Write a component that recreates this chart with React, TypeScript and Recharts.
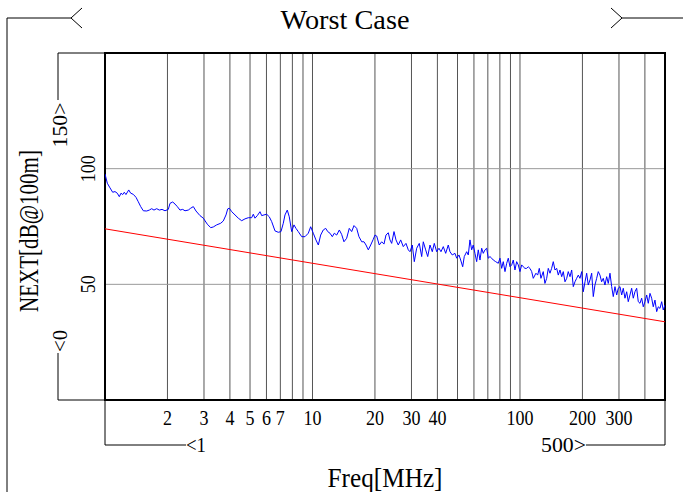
import React from 'react';
import { LineChart, Line, XAxis, YAxis, CartesianGrid, Customized } from 'recharts';

// measured NEXT trace (MHz / dB)
const freqs = [
  1, 1.026, 1.057, 1.089, 1.117, 1.146, 1.172, 1.194, 1.217, 1.239, 1.262, 1.301, 1.33, 1.369, 1.411, 1.447, 1.486, 1.53, 1.589, 1.635,
  1.679, 1.722, 1.775, 1.827, 1.883, 1.946, 2.019, 2.057, 2.12, 2.175, 2.231, 2.298, 2.369, 2.43, 2.52, 2.588, 2.665,
  2.745, 2.87, 2.977, 3.112, 3.232, 3.326, 3.454, 3.611, 3.717, 3.83, 3.903, 3.972, 4.08, 4.232, 4.389, 4.558, 4.728, 4.905, 5.093, 5.184,
  5.283, 5.42, 5.585, 5.691, 5.838, 6.016, 6.191, 6.359, 6.596, 6.842, 7.05, 7.232, 7.37,
  7.56, 7.729, 7.938, 8.142, 8.325, 8.54, 8.872, 9.203, 9.546, 9.802, 10.09, 10.39, 10.67, 10.95, 11.27, 11.58, 11.84, 12.14, 12.46, 12.74,
  13.08, 13.47, 13.82, 14.18, 14.61, 15.04, 15.45, 15.85, 16.33, 16.75, 17.27, 17.71, 18.11, 18.58, 19.08, 19.64,
  20.01, 20.39, 20.98, 21.55, 22.11, 22.61, 23.19, 23.63, 24.08, 24.71, 25.26, 25.91, 26.61, 27.39, 28.22, 28.95, 29.51, 30.27, 30.95, 31.78,
  32.71, 33.6, 34.2, 35.12, 35.92, 36.84, 37.79, 38.64, 39.68, 40.7, 41.62, 42.7, 43.85, 45.13, 45.99, 47.17, 48.61, 49.54, 50.82, 51.79, 52.96, 53.9,
  55.35, 56.34, 57.41, 58.5, 59.55, 60.68, 61.84, 62.95, 64.15, 65.38, 66.55, 67.82, 69.11, 70.35, 71.69, 73.06, 74.37, 76.38, 78.61, 80.1,
  81.63, 83.09, 84.68, 86.3, 87.84, 89.51, 91.2, 92.84, 94.61, 96.4, 98.13, 100, 101.9, 103.7, 105.7, 107.7, 109.6, 111.7, 113.9, 115.9,
  119.4, 121.7, 123.9, 126.2, 129.5, 131.9, 134.5, 136.9, 139.5,
  142.1, 144.7, 147.5, 150.3, 153, 155.9, 158.9, 161.7, 164.8, 168, 170.9, 174.2, 177.5, 180.7, 184.1, 187.6, 191, 194.6, 198.4, 201.9,
  205.8, 209.6, 213.4, 217.5, 221.6, 225.6, 229.8, 234.2, 238.4, 242.9, 247.5, 252, 256.8, 261.7, 266.4, 271.5, 276.7, 281.6, 287, 292.5,
  297.7, 303.4, 309.2, 314.7, 320.7, 326.8, 332.6, 338.9, 345.4, 351.6, 358.3, 365.1, 371.7, 378.8, 385.9, 392.9, 400.4, 408, 415.3, 423.2,
  431.2, 438.9, 447.3, 455.9, 464, 472.8, 481.9, 490.5, 500,
];

const nextValues = [
  97.7, 93.7, 91.7, 89.8, 90.1, 89.4, 87.9, 89.4, 88.8, 89.8, 88.8, 90.8, 89.4, 88.9, 87.6, 85.7, 83.6, 81.8, 81.7, 82.1,
  82.7, 82.1, 82.7, 82.1, 82.4, 81.8, 82.4, 85.0, 85.6, 84.7, 83.6, 82.1, 82.4, 81.8, 82.1, 82.9, 83.6,
  81.7, 79.7, 78.6, 76.0, 74.5, 74.8, 75.7, 76.4, 77.4, 80.0, 82.6, 82.9, 81.4, 80.0, 78.6, 77.5, 78.3, 78.8, 78.8, 80.3,
  78.6, 79.7, 81.4, 79.7, 80.0, 80.3, 79.2, 77.1, 73.1, 72.5, 72.8, 76.4, 80.0,
  82.1, 79.2, 72.8, 75.7, 74.2, 72.8, 70.6, 70.6, 72.1, 74.9, 72.1, 69.2, 67.0, 71.3, 73.5, 74.2, 72.8, 72.1, 70.6, 72.1,
  71.3, 73.5, 71.6, 68.4, 69.9, 74.2, 72.8, 75.4, 74.2, 70.6, 68.4, 68.4, 67.0, 64.9, 67.0, 69.5,
  71.3, 70.9, 67.0, 68.4, 67.4, 71.3, 72.3, 69.2, 67.7, 72.8, 69.2, 67.0, 69.2, 66.3, 67.7, 64.9, 64.1, 67.0, 59.8, 65.6,
  67.7, 62.0, 68.4, 64.9, 62.0, 67.0, 64.1, 67.7, 64.1, 65.6, 64.1, 66.3, 63.4, 67.0, 64.1, 62.7, 63.4, 61.3, 62.7, 60.5, 57.6, 62.0,
  64.1, 62.7, 69.2, 64.9, 67.0, 63.4, 59.8, 64.9, 60.5, 65.6, 63.4, 64.9, 65.6, 61.3, 62.0, 61.3, 60.5, 59.8, 59.1, 61.3,
  56.9, 59.8, 55.5, 59.1, 61.3, 57.6, 58.4, 60.5, 56.2, 59.8, 58.4, 55.5, 58.4, 57.6, 56.9, 56.9, 57.6, 56.9, 55.5, 52.6,
  54.8, 54.0, 56.9, 52.6, 55.5, 50.4, 52.6, 56.9, 54.8,
  56.9, 59.8, 56.2, 56.9, 54.0, 56.2, 53.3, 55.5, 51.1, 52.6, 55.5, 53.3, 56.2, 49.0, 51.1, 52.6, 54.0, 52.6, 55.5, 46.8,
  51.1, 54.8, 49.7, 51.9, 54.8, 44.7, 49.7, 52.6, 55.5, 54.0, 51.1, 52.6, 49.7, 53.3, 50.4, 54.8, 49.0, 44.7, 49.0, 45.4,
  48.3, 49.0, 45.4, 48.3, 44.0, 46.8, 42.5, 45.4, 48.3, 44.0, 46.8, 48.3, 42.5, 41.8, 44.0, 40.3, 42.5, 45.4, 41.8, 46.1,
  44.0, 40.3, 43.2, 38.2, 40.3, 39.6, 42.5, 38.9, 41.1,
];

// limit line end points
const limitFreqs = [1, 500];
const limitValues = [74, 33.8];

const gridFreqs = [2, 3, 4, 5, 6, 7, 8, 9, 10, 20, 30, 40, 50, 60, 70, 80, 90, 100, 200, 300, 400];
const labeledFreqs = [2, 3, 4, 5, 6, 7, 10, 20, 30, 40, 100, 200, 300];
const yTicks = [0, 50, 100, 150];
const labeledY = [50, 100];

const W = 683;
const H = 492;
const LEFT = 105;
const TOP = 53;
const RIGHT = 665;
const BOTTOM = 400;
const FONT = '"Liberation Serif", serif';

const nextData = freqs.slice(0, nextValues.length).map((f, i) => ({ f, v: nextValues[i] }));
const limitData = limitFreqs.map((f, i) => ({ f, v: limitValues[i] }));

function T({ x, y, text, size, len, rotate, anchor = 'middle' }: any) {
  return (
    <text
      x={0}
      y={0}
      transform={`translate(${x},${y})${rotate ? ` rotate(${rotate})` : ''}`}
      fontFamily={FONT}
      fontSize={size}
      textAnchor={anchor}
      textLength={len}
      lengthAdjust="spacingAndGlyphs"
      fill="#000"
    >
      {text}
    </text>
  );
}

const XTick = (props: any) => {
  const v = props.payload.value;
  if (!labeledFreqs.includes(v)) return <g />;
  const s = String(v);
  return <T x={props.x} y={425} text={s} size={21} len={9 * s.length} />;
};

const YTick = (props: any) => {
  const v = props.payload.value;
  if (!labeledY.includes(v)) return <g />;
  const s = String(v);
  return <T x={95} y={props.y} text={s} size={21} len={9 * s.length} rotate={-90} />;
};

const Deco = () => (
  <g stroke="#000" strokeWidth={1} fill="none">
    {/* figure frame + title brackets */}
    <polyline points={`7,${H} 7,18 71,18`} />
    <polyline points="82,8 71,18 82,28" />
    <polyline points="611,8 622,18 611,28" />
    <line x1={622} y1={18} x2={W} y2={18} />
    {/* y bracket */}
    <polyline points={`${LEFT},${TOP} 58,${TOP} 58,100`} />
    <polyline points={`58,353 58,${BOTTOM} ${LEFT},${BOTTOM}`} />
    {/* x bracket */}
    <polyline points={`${LEFT},${BOTTOM} ${LEFT},445 186,445`} />
    <polyline points={`586,445 ${RIGHT},445 ${RIGHT},${BOTTOM}`} />
    {/* plot border */}
    <rect x={LEFT} y={TOP} width={RIGHT - LEFT} height={BOTTOM - TOP} strokeWidth={2} />
    <g stroke="none">
      <T x={345} y={29} text="Worst Case" size={27} len={129} />
      <T x={385} y={487} text="Freq[MHz]" size={27} len={115} />
      <T x={38} y={231} text="NEXT[dB@100m]" size={27} len={162} rotate={-90} />
      <T x={186} y={452} text="<1" size={21} len={20} anchor="start" />
      <T x={586} y={452} text="500>" size={21} len={45} anchor="end" />
      <T x={67} y={125} text="150>" size={21} len={45} rotate={-90} />
      <T x={67} y={341} text="<0" size={21} len={22} rotate={-90} />
    </g>
  </g>
);

export default function App() {
  return (
    <div style={{ position: 'absolute', left: 0, top: 0 }}>
      <LineChart width={W} height={H} margin={{ top: TOP, right: W - RIGHT, bottom: 0, left: 0 }}>
        <CartesianGrid horizontal={false} stroke="#555" />
        <CartesianGrid vertical={false} stroke="#999" />
        <XAxis
          dataKey="f"
          type="number"
          scale="log"
          domain={[1, 500]}
          ticks={gridFreqs}
          allowDataOverflow
          height={H - BOTTOM}
          axisLine={false}
          tickLine={false}
          tick={XTick}
          interval={0}
        />
        <YAxis
          type="number"
          domain={[0, 150]}
          ticks={yTicks}
          width={LEFT}
          axisLine={false}
          tickLine={false}
          tick={YTick}
          interval={0}
        />
        <Line data={limitData} dataKey="v" stroke="#ff0000" strokeWidth={1} dot={false} isAnimationActive={false} />
        <Line data={nextData} dataKey="v" stroke="#0000ff" strokeWidth={1} dot={false} isAnimationActive={false} />
        <Customized component={Deco} />
      </LineChart>
    </div>
  );
}
